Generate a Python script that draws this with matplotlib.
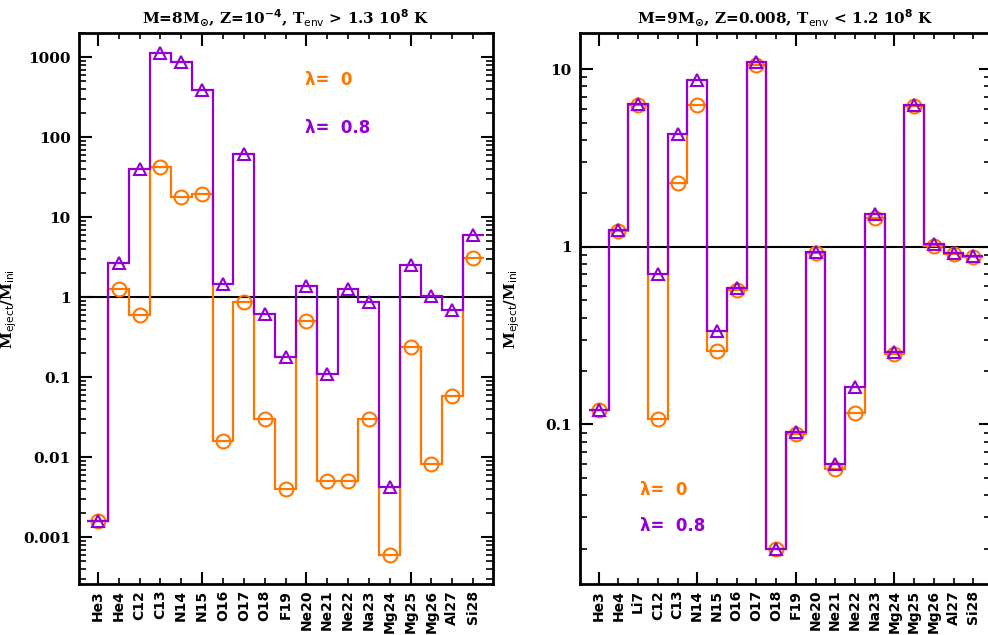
import numpy as np
import matplotlib
matplotlib.use("Agg")
import matplotlib.pyplot as plt
from matplotlib.ticker import FixedLocator, LogLocator, FuncFormatter, NullFormatter

plt.rcParams['mathtext.default'] = 'bf'

orange = '#ff7700'
purple = '#9400d3'

# ---------------- data: left panel (8 Msun, Z=1e-4) ----------------
iso_left = ['He3', 'He4', 'C12', 'C13', 'N14', 'N15', 'O16', 'O17', 'O18', 'F19',
            'Ne20', 'Ne21', 'Ne22', 'Na23', 'Mg24', 'Mg25', 'Mg26', 'Al27', 'Si28']
lam0_left = [0.0016, 1.25, 0.6, 42, 18, 19.5, 0.016, 0.87, 0.030, 0.0040,
             0.5, 0.0051, 0.0051, 0.030, 0.0006, 0.24, 0.0082, 0.059, 3.1]
lam08_left = [0.0016, 2.7, 40, 1130, 880, 390, 1.45, 62, 0.61, 0.18,
              1.4, 0.11, 1.25, 0.86, 0.0042, 2.5, 1.05, 0.69, 6.0]
yticks_left = [0.001, 0.01, 0.1, 1, 10, 100, 1000]

# ---------------- data: right panel (9 Msun, Z=0.008) ----------------
iso_right = ['He3', 'He4', 'Li7', 'C12', 'C13', 'N14', 'N15', 'O16', 'O17', 'O18',
             'F19', 'Ne20', 'Ne21', 'Ne22', 'Na23', 'Mg24', 'Mg25', 'Mg26', 'Al27', 'Si28']
lam0_right = [0.12, 1.23, 6.3, 0.107, 2.28, 6.3, 0.26, 0.57, 10.6, 0.020,
              0.088, 0.92, 0.056, 0.116, 1.46, 0.25, 6.2, 1.01, 0.91, 0.88]
lam08_right = [0.12, 1.25, 6.4, 0.70, 4.3, 8.7, 0.335, 0.59, 11.0, 0.020,
               0.091, 0.93, 0.060, 0.163, 1.53, 0.255, 6.3, 1.04, 0.92, 0.89]
yticks_right = [0.1, 1, 10]


def panel(ax, names, v0, v8, ylim, xlim, yticks, title):
    n = len(names)
    x = np.arange(n)
    edges = np.arange(n + 1) - 0.5
    ax.axhline(1.0, color='black', lw=1.5, zorder=1)
    ax.stairs(v0, edges, baseline=None, color=orange, lw=1.6, zorder=2)
    ax.plot(x, v0, ls='none', marker='o', ms=10, mfc='none', mec=orange, mew=1.5, zorder=3)
    ax.stairs(v8, edges, baseline=None, color=purple, lw=1.6, zorder=4)
    ax.plot(x, v8, ls='none', marker='^', ms=9, mfc='none', mec=purple, mew=1.5, zorder=5)
    ax.set_yscale('log')
    ax.set_ylim(*ylim)
    ax.set_xlim(*xlim)

    # x ticks: labels at every isotope, long ticks every 5
    ax.set_xticks(x)
    ax.set_xticklabels(names, rotation=90, fontsize=10, fontweight='bold',
                       family='DejaVu Sans')
    ax.xaxis.set_minor_locator(FixedLocator(np.arange(0, n, 5)))
    ax.xaxis.remove_overlapping_locs = False
    ax.tick_params(axis='x', which='major', direction='in', length=4, width=1.2,
                   top=True, bottom=True, pad=4)
    ax.tick_params(axis='x', which='minor', direction='in', length=9, width=1.5,
                   top=True, bottom=True)

    ax.yaxis.set_major_locator(FixedLocator(yticks))
    ax.yaxis.set_minor_locator(LogLocator(base=10, subs=np.arange(2, 10), numticks=20))
    ax.yaxis.set_major_formatter(FuncFormatter(lambda v, p: '%g' % v))
    ax.yaxis.set_minor_formatter(NullFormatter())
    ax.tick_params(axis='y', which='major', direction='in', length=9, width=1.5,
                   left=True, right=True, labelsize=11, pad=6)
    ax.tick_params(axis='y', which='minor', direction='in', length=5, width=1.2,
                   left=True, right=True)
    for lab in ax.get_yticklabels():
        lab.set_fontweight('bold')
        lab.set_family('DejaVu Serif')
    for sp in ax.spines.values():
        sp.set_linewidth(2)
    ax.set_ylabel(r'M$_{\rm eject}$/M$_{\rm ini}$', fontsize=11, fontweight='bold',
                  family='DejaVu Serif')
    ax.set_title(title, fontsize=11, fontweight='bold', family='DejaVu Serif', pad=7)


fig = plt.figure(figsize=(9.88, 6.35), dpi=100)
ax1 = fig.add_axes([0.080, 0.080, 0.419, 0.868])
ax2 = fig.add_axes([0.587, 0.080, 0.416, 0.868])

panel(ax1, iso_left, lam0_left, lam08_left, (2.6e-4, 2000), (-0.9, 18.95), yticks_left,
      r'M=8M$_{\odot}$, Z=10$^{-4}$, T$_{\rm env}$ > 1.3 10$^{8}$ K')
panel(ax2, iso_right, lam0_right, lam08_right, (0.0126, 16), (-0.95, 19.9), yticks_right,
      r'M=9M$_{\odot}$, Z=0.008, T$_{\rm env}$ < 1.2 10$^{8}$ K')
ax1.yaxis.set_label_coords(-0.145, 0.5)
ax2.yaxis.set_label_coords(-0.14, 0.5)

ax1.text(0.545, 0.915, u'\u03bb=  0', transform=ax1.transAxes, color=orange,
         fontsize=12, fontweight='bold', va='center')
ax1.text(0.545, 0.828, u'\u03bb=  0.8', transform=ax1.transAxes, color=purple,
         fontsize=12, fontweight='bold', va='center')
ax2.text(0.145, 0.170, u'\u03bb=  0', transform=ax2.transAxes, color=orange,
         fontsize=12, fontweight='bold', va='center')
ax2.text(0.145, 0.105, u'\u03bb=  0.8', transform=ax2.transAxes, color=purple,
         fontsize=12, fontweight='bold', va='center')

fig.savefig('out.png', dpi=100)
